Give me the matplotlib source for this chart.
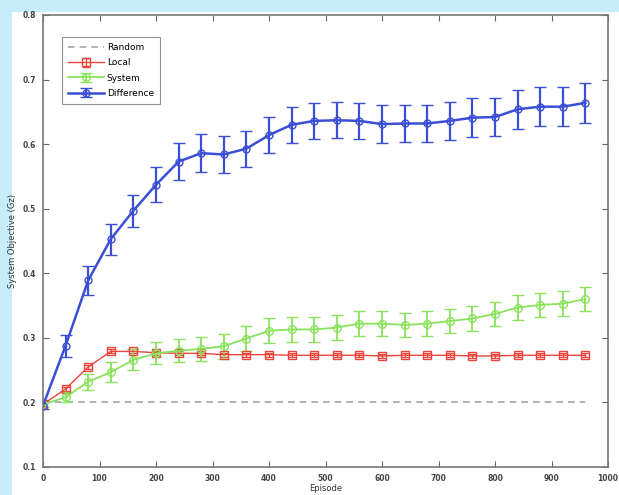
import matplotlib
matplotlib.use("Agg")
import matplotlib.pyplot as plt
from matplotlib.patches import Rectangle

episodes = [0, 40, 80, 120, 160, 200, 240, 280, 320, 360, 400, 440, 480,
            520, 560, 600, 640, 680, 720, 760, 800, 840, 880, 920, 960]

random_val = [0.2] * len(episodes)

local = [0.197, 0.221, 0.255, 0.279, 0.279, 0.277, 0.276, 0.276, 0.274, 0.274,
         0.274, 0.273, 0.273, 0.273, 0.273, 0.272, 0.273, 0.273, 0.273, 0.272,
         0.272, 0.273, 0.273, 0.273, 0.273]
local_err = [0.003, 0.003, 0.003, 0.003, 0.003, 0.003, 0.003, 0.003, 0.003, 0.003,
             0.003, 0.003, 0.003, 0.003, 0.003, 0.003, 0.003, 0.003, 0.003, 0.003,
             0.003, 0.003, 0.003, 0.003, 0.003]

system = [0.197, 0.208, 0.232, 0.247, 0.266, 0.276, 0.280, 0.283, 0.287, 0.299,
          0.311, 0.313, 0.313, 0.316, 0.322, 0.322, 0.320, 0.322, 0.326, 0.330,
          0.337, 0.347, 0.351, 0.353, 0.360]
system_err = [0.004, 0.008, 0.012, 0.015, 0.016, 0.017, 0.018, 0.019, 0.019, 0.019,
              0.019, 0.019, 0.019, 0.019, 0.019, 0.019, 0.019, 0.019, 0.019, 0.019,
              0.019, 0.019, 0.019, 0.019, 0.019]

difference = [0.195, 0.288, 0.389, 0.453, 0.497, 0.537, 0.573, 0.586, 0.584, 0.593,
              0.614, 0.630, 0.636, 0.637, 0.636, 0.631, 0.632, 0.632, 0.636, 0.641,
              0.642, 0.654, 0.658, 0.658, 0.664]
difference_err = [0.005, 0.017, 0.022, 0.024, 0.025, 0.027, 0.029, 0.029, 0.029, 0.028,
                  0.028, 0.028, 0.028, 0.028, 0.028, 0.029, 0.029, 0.028, 0.029, 0.030,
                  0.030, 0.030, 0.030, 0.030, 0.031]

xticks = [0, 100, 200, 300, 400, 500, 600, 700, 800, 900, 1000]
yticks = [0.1, 0.2, 0.3, 0.4, 0.5, 0.6, 0.7, 0.8]

fig = plt.figure(figsize=(6.19, 4.95), dpi=100)
fig.patch.set_facecolor("#c8edfa")
fig.add_artist(Rectangle((12 / 619, 0), 1, 1 - 12 / 495, transform=fig.transFigure,
                         facecolor="white", edgecolor="none", zorder=-10))

ax = fig.add_axes([43 / 619, 1 - 467 / 495, (608 - 43) / 619, (467 - 15) / 495])
ax.set_zorder(5)
ax.set_facecolor("white")

blue = "#3a4fd6"
red = "#e8463c"
green = "#8ae35c"
gray = "#a0a8a0"

ax.plot(episodes, random_val, linestyle="--", color=gray, lw=1.2, label="Random",
        dashes=(4, 3))
ax.errorbar(episodes, local, yerr=local_err, color=red, marker="s", markersize=5.5,
            markerfacecolor="none", markeredgewidth=1.0, lw=1.0, capsize=3,
            elinewidth=0.9, label="Local")
ax.errorbar(episodes, system, yerr=system_err, color=green, marker="o", markersize=5.5,
            markerfacecolor="none", markeredgewidth=1.0, lw=1.3, capsize=4,
            elinewidth=1.3, label="System")
ax.errorbar(episodes, difference, yerr=difference_err, color=blue, marker="o", markersize=5,
            markerfacecolor="none", markeredgewidth=1.0, lw=1.8, capsize=4.5,
            elinewidth=1.6, capthick=1.3, label="Difference")

ax.set_xlim(0, 1000)
ax.set_ylim(0.1, 0.8)
ax.set_xticks(xticks)
ax.set_xticklabels([str(t) for t in xticks])
ax.set_yticks(yticks)
ax.set_yticklabels([f"{t:.1f}" for t in yticks])
ax.tick_params(direction="in", top=True, right=True, length=4, width=0.8,
               color="#666666", labelsize=5.5, labelcolor="#444444", pad=5)
for lab in ax.get_xticklabels() + ax.get_yticklabels():
    lab.set_fontweight("bold")
for s in ax.spines.values():
    s.set_color("#777777")
    s.set_linewidth(1.2)

ax.set_xlabel("Episode", fontsize=6, color="#333333", labelpad=1)
ax.set_ylabel("System Objective (Gz)", fontsize=6, color="#333333", labelpad=4)

leg = ax.legend(loc="upper left", bbox_to_anchor=(0.033, 0.952), fontsize=6.5,
                handlelength=4.0, borderpad=0.7, labelspacing=0.7, frameon=True,
                fancybox=False, edgecolor="#777777", handletextpad=0.3,
                borderaxespad=0.0)
leg.get_frame().set_linewidth(0.8)

fig.savefig("out.png", dpi=100, facecolor=fig.get_facecolor())
